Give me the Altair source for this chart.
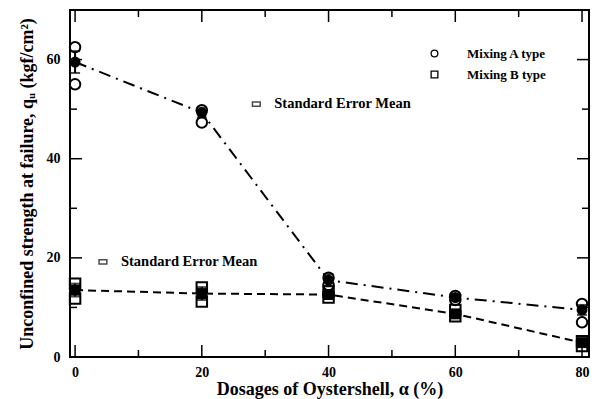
import altair as alt
import pandas as pd

# ---- data ----
dosage = [0, 20, 40, 60, 80]

# individual specimens (open markers)
a_pts_x = [0, 0, 20, 20, 40, 40, 60, 60, 80, 80]
a_pts_y = [62.5, 55.0, 49.8, 47.3, 16.0, 14.5, 12.3, 11.5, 10.7, 7.0]
b_pts_x = [0, 0, 20, 20, 40, 40, 60, 60, 80, 80]
b_pts_y = [14.8, 11.8, 14.0, 11.2, 13.2, 12.0, 9.5, 8.2, 3.2, 2.2]

# means (filled markers + lines)
a_mean = [59.5, 49.3, 15.5, 12.0, 9.5]
b_mean = [13.5, 12.8, 12.6, 8.7, 2.9]
# standard error of mean
a_se = [2.2, 1.0, 1.2, 0.6, 1.0]
b_se = [1.3, 1.3, 0.6, 0.6, 0.5]

x_major = [0, 20, 40, 60, 80]
x_minor = [10, 30, 50, 70]
y_major = [20, 40, 60]
y_minor = [10, 30, 50]
y_labels = [0, 20, 40, 60]

legend_names = ["Mixing A type", "Mixing B type"]
note_text = "Standard Error Mean"
note_x = [28.6, 4.4]
note_y = [51.0, 19.2]

W, H = 519, 347
FONT = "Liberation Serif"

pts = pd.DataFrame({
    "x": a_pts_x + b_pts_x,
    "y": a_pts_y + b_pts_y,
    "s": [legend_names[0]] * len(a_pts_x) + [legend_names[1]] * len(b_pts_x),
})
means = pd.DataFrame({
    "x": dosage * 2,
    "y": a_mean + b_mean,
    "lo": [m - e for m, e in zip(a_mean, a_se)] + [m - e for m, e in zip(b_mean, b_se)],
    "hi": [m + e for m, e in zip(a_mean, a_se)] + [m + e for m, e in zip(b_mean, b_se)],
    "s": [legend_names[0]] * 5 + [legend_names[1]] * 5,
})
notes = pd.DataFrame({"x": note_x, "y": note_y, "t": [note_text, note_text]})

xscale = alt.Scale(domain=[-0.8, 81.1], nice=False, zero=False)
yscale = alt.Scale(domain=[0, 70], nice=False)
xaxis = alt.Axis(values=x_major, tickSize=0, domain=False, grid=False, labelPadding=8,
                 title="Dosages of Oystershell, α (%)", titlePadding=1)
yaxis = alt.Axis(values=y_labels, tickSize=0, domain=False, grid=False, labelPadding=10,
                 title="Unconfined strength at failure, qᵤ (kgf/cm²)", titlePadding=10)

def X(f):
    return alt.X(f, type="quantitative", scale=xscale, axis=xaxis)

def Y(f):
    return alt.Y(f, type="quantitative", scale=yscale, axis=yaxis)

shape_scale = alt.Scale(domain=legend_names, range=["circle", "square"])

# lines through means
line_a = alt.Chart(means[means.s == legend_names[0]]).mark_line(
    color="black", strokeWidth=2, strokeDash=[12, 6, 2, 6]
).encode(x=X("x"), y=Y("y"))
line_b = alt.Chart(means[means.s == legend_names[1]]).mark_line(
    color="black", strokeWidth=2, strokeDash=[8, 5]
).encode(x=X("x"), y=Y("y"))

# error bars
err = alt.Chart(means).mark_rule(color="black", strokeWidth=2).encode(
    x=X("x"), y=Y("lo"), y2="hi")
cap_lo = alt.Chart(means).mark_tick(color="black", thickness=2, size=10, orient="horizontal").encode(
    x=X("x"), y=Y("lo"))
cap_hi = alt.Chart(means).mark_tick(color="black", thickness=2, size=10, orient="horizontal").encode(
    x=X("x"), y=Y("hi"))

# open individual specimen markers (legend)
open_pts = alt.Chart(pts).mark_point(filled=False, color="black", strokeWidth=2, size=110, opacity=1).encode(
    x=X("x"), y=Y("y"),
    shape=alt.Shape("s:N", scale=shape_scale, title=None,
                    legend=alt.Legend(orient="none", legendX=358, legendY=37,
                                      symbolSize=45, symbolStrokeWidth=1.3,
                                      symbolStrokeColor="black", symbolFillColor="white",
                                      labelFont=FONT, labelFontSize=13, labelFontWeight="bold",
                                      labelOffset=26, rowPadding=7, labelColor="black")),
)

# filled mean markers
mean_pts = alt.Chart(means).mark_point(filled=True, color="black", size=120, opacity=1).encode(
    x=X("x"), y=Y("y"),
    shape=alt.Shape("s:N", scale=shape_scale, legend=None),
)

# annotations
note_icon = alt.Chart(notes).mark_point(
    shape="M-1,-0.55H1V0.55H-1Z", size=60, filled=False, color="black", strokeWidth=1.5
).encode(x=X("x"), y=Y("y"))
note_txt = alt.Chart(notes).mark_text(
    align="left", dx=18, font=FONT, fontSize=14.5, fontWeight="bold", color="black"
).encode(x=X("x"), y=Y("y"), text="t:N")

# inward ticks
tx_maj = pd.DataFrame({"v": x_major})
tx_min = pd.DataFrame({"v": x_minor})
ty_maj = pd.DataFrame({"v": y_major})
ty_min = pd.DataFrame({"v": y_minor})

def xticks(df, length):
    bot = alt.Chart(df).mark_rule(color="black", strokeWidth=1.5).encode(
        x=X("v"), y=alt.value(H), y2=alt.value(H - length))
    top = alt.Chart(df).mark_rule(color="black", strokeWidth=1.5).encode(
        x=X("v"), y=alt.value(0), y2=alt.value(length))
    return bot + top

def yticks(df, length):
    left = alt.Chart(df).mark_rule(color="black", strokeWidth=1.5).encode(
        y=Y("v"), x=alt.value(0), x2=alt.value(length))
    right = alt.Chart(df).mark_rule(color="black", strokeWidth=1.5).encode(
        y=Y("v"), x=alt.value(W), x2=alt.value(W - length))
    return left + right

chart = alt.layer(
    xticks(tx_maj, 12), xticks(tx_min, 7), yticks(ty_maj, 12), yticks(ty_min, 7),
    line_a, line_b, err, cap_lo, cap_hi, open_pts, mean_pts, note_icon, note_txt,
).properties(
    width=W, height=H,
    autosize=alt.AutoSizeParams(type="none"),
    padding={"left": 70, "top": 10, "right": 10, "bottom": 42},
    background="white",
).configure_view(
    stroke="black", strokeWidth=2
).configure_axis(
    labelFont=FONT, labelFontSize=14, labelFontWeight="bold", labelColor="black",
    titleFont=FONT, titleFontSize=18, titleFontWeight="bold", titleColor="black",
)

chart.save("out.html", embed_options={"renderer": "svg", "actions": False})
